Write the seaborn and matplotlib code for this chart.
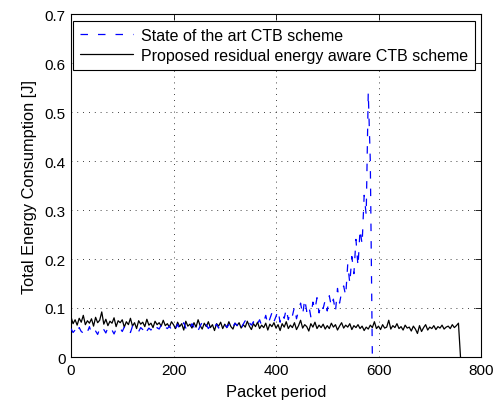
import numpy as np
import pandas as pd
import matplotlib
matplotlib.use("Agg")
import matplotlib.pyplot as plt
import seaborn as sns

# ---------------- data ----------------
series_names = ["State of the art CTB scheme",
                "Proposed residual energy aware CTB scheme"]

state_period = np.arange(0, 592, 4)
state_energy = [
    0.058, 0.050, 0.055, 0.047, 0.060, 0.052, 0.049, 0.057, 0.051, 0.062,
    0.048, 0.055, 0.053, 0.046, 0.058, 0.051, 0.056, 0.049, 0.060, 0.052,
    0.055, 0.047, 0.057, 0.053, 0.059,
    0.052, 0.061, 0.054, 0.058, 0.050, 0.063, 0.055, 0.057, 0.052, 0.060,
    0.056, 0.064, 0.053, 0.059, 0.055, 0.062, 0.054, 0.060, 0.057, 0.065,
    0.055, 0.061, 0.058, 0.063, 0.056,
    0.064, 0.058, 0.067, 0.055, 0.062, 0.070, 0.059, 0.065, 0.057, 0.068,
    0.061, 0.066, 0.054, 0.063, 0.071, 0.060, 0.066, 0.058, 0.064, 0.069,
    0.061, 0.067, 0.059, 0.065, 0.062,
    0.068, 0.060, 0.066, 0.073, 0.062, 0.069, 0.064, 0.071, 0.059, 0.067,
    0.074, 0.063, 0.070, 0.065, 0.072, 0.061, 0.068, 0.076, 0.064, 0.071,
    0.085, 0.066, 0.078, 0.090, 0.072,
    0.083, 0.095, 0.071, 0.088, 0.079, 0.098, 0.076, 0.092, 0.084, 0.102,
    0.078, 0.095, 0.110, 0.086, 0.118, 0.093, 0.105, 0.082, 0.112, 0.097,
    0.121, 0.090, 0.108, 0.099, 0.116,
    0.094, 0.125, 0.103, 0.118, 0.092, 0.140, 0.110, 0.132, 0.145, 0.125,
    0.190, 0.150, 0.205, 0.170, 0.240, 0.185, 0.260, 0.230, 0.330, 0.290,
    0.540, 0.400, 0.000,
]

proposed_period = np.arange(0, 764, 4)
proposed_energy = [
    0.082, 0.068, 0.076, 0.065, 0.079, 0.071, 0.085, 0.066, 0.074, 0.069,
    0.078, 0.063, 0.081, 0.070, 0.075, 0.092, 0.067, 0.077, 0.064, 0.073,
    0.069, 0.080, 0.062, 0.074, 0.070,
    0.076, 0.061, 0.072, 0.066, 0.079, 0.063, 0.070, 0.058, 0.074, 0.067,
    0.071, 0.062, 0.077, 0.065, 0.069, 0.060, 0.073, 0.066, 0.070, 0.063,
    0.075, 0.064, 0.068, 0.061, 0.072,
    0.066, 0.058, 0.071, 0.062, 0.068, 0.055, 0.073, 0.063, 0.067, 0.059,
    0.070, 0.061, 0.076, 0.064, 0.057, 0.069, 0.062, 0.072, 0.060, 0.066,
    0.054, 0.068, 0.063, 0.071, 0.058,
    0.067, 0.060, 0.072, 0.062, 0.057, 0.069, 0.064, 0.070, 0.059, 0.066,
    0.061, 0.073, 0.063, 0.056, 0.068, 0.062, 0.071, 0.058, 0.065, 0.060,
    0.069, 0.055, 0.067, 0.062, 0.070,
    0.059, 0.066, 0.054, 0.068, 0.061, 0.072, 0.058, 0.065, 0.060, 0.070,
    0.056, 0.064, 0.075, 0.059, 0.066, 0.062, 0.053, 0.068, 0.061, 0.071,
    0.058, 0.065, 0.060, 0.067, 0.057,
    0.064, 0.058, 0.069, 0.061, 0.066, 0.055, 0.063, 0.070, 0.059, 0.065,
    0.061, 0.068, 0.056, 0.064, 0.060, 0.066, 0.058, 0.063, 0.054, 0.061,
    0.057, 0.065, 0.060, 0.072, 0.058,
    0.063, 0.056, 0.066, 0.059, 0.061, 0.075, 0.057, 0.064, 0.060, 0.068,
    0.058, 0.062, 0.055, 0.065, 0.059, 0.061, 0.053, 0.063, 0.057, 0.048,
    0.064, 0.052, 0.060, 0.066, 0.055,
    0.061, 0.058, 0.064, 0.056, 0.062, 0.059, 0.065, 0.057, 0.061, 0.063,
    0.058, 0.066, 0.060, 0.064, 0.069, 0.000,
]

x_ticks = [0, 200, 400, 600, 800]
y_ticks = [0, 0.1, 0.2, 0.3, 0.4, 0.5, 0.6, 0.7]
y_tick_labels = ["0", "0.1", "0.2", "0.3", "0.4", "0.5", "0.6", "0.7"]
x_label = "Packet period"
y_label = "Total Energy Consumption [J]"

# ---------------- styling ----------------
sns.set_theme(style="white")
plt.rcParams["font.family"] = ["Liberation Sans", "DejaVu Sans"]
plt.rcParams["axes.edgecolor"] = "black"
plt.rcParams["axes.linewidth"] = 0.8
plt.rcParams["xtick.color"] = "black"
plt.rcParams["ytick.color"] = "black"
plt.rcParams["text.color"] = "black"
plt.rcParams["axes.labelcolor"] = "black"

fig = plt.figure(figsize=(4.98, 4.02), dpi=100)
ax = fig.add_axes([71 / 498, 1 - 358 / 402, 410 / 498, 343 / 402])

df_state = pd.DataFrame({"period": state_period, "energy": state_energy})
df_prop = pd.DataFrame({"period": proposed_period, "energy": proposed_energy})

blue = (0, 0, 1)
sns.lineplot(data=df_state, x="period", y="energy", ax=ax, color=blue,
             linewidth=0.9, linestyle=(0, (6, 8)),
             estimator=None, sort=False, zorder=3)
sns.lineplot(data=df_prop, x="period", y="energy", ax=ax, color="black",
             linewidth=0.9,
             estimator=None, sort=False, zorder=2)

ax.set_xlim(0, 800)
ax.set_ylim(0, 0.7)
ax.set_xticks(x_ticks)
ax.set_yticks(y_ticks)
ax.set_yticklabels(y_tick_labels)
ax.tick_params(direction="in", length=4, width=0.6, top=True, right=True,
               labelsize=11, pad=4)
ax.set_xlabel(x_label, fontsize=11.8, labelpad=5)
ax.set_ylabel(y_label, fontsize=11.8, labelpad=5)
ax.grid(True, color="black", linestyle=(0, (1, 6)), linewidth=0.6)
ax.set_axisbelow(True)
for s in ax.spines.values():
    s.set_visible(True)
    s.set_color("black")

handles = [ax.lines[0], ax.lines[1]]
leg = ax.legend(handles=handles, labels=series_names,
                loc="upper left", bbox_to_anchor=(0.005, 0.98),
                borderaxespad=0, fontsize=11.5, frameon=True, fancybox=False,
                edgecolor="black", framealpha=1, handlelength=3.3,
                handletextpad=0.5, labelspacing=0.3, borderpad=0.45)
leg.get_frame().set_linewidth(0.8)

fig.savefig("out.png", dpi=100)
